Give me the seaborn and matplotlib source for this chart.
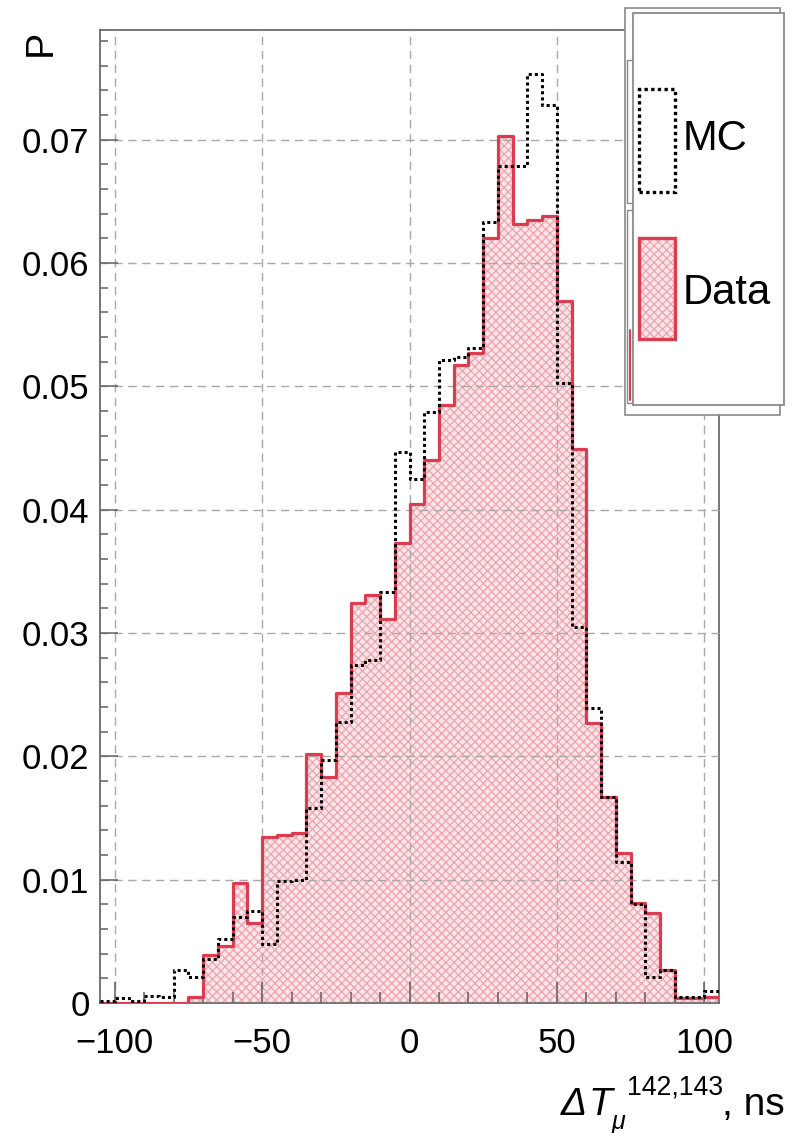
import numpy as np
import pandas as pd
import matplotlib
matplotlib.use("Agg")
import matplotlib.pyplot as plt
import seaborn as sns
from matplotlib import font_manager
from matplotlib.patches import Rectangle
from matplotlib.lines import Line2D
from matplotlib.ticker import FixedLocator, FixedFormatter, MultipleLocator

# ---- histogram content: probability per 5 ns bin, bins from -105 to 105 ns ----
bin_edges = [float(e) for e in np.arange(-105, 106, 5)]
bin_centers = [e + 2.5 for e in bin_edges[:-1]]

data_p = [0.0, 0.0, 0.0, 0.0, 0.0, 0.0, 0.0005, 0.0039, 0.0046, 0.0097,
          0.0065, 0.0135, 0.0136, 0.0138, 0.0202, 0.0183, 0.0251, 0.0324,
          0.0331, 0.0311, 0.0373, 0.0405, 0.0440, 0.0485, 0.0517, 0.0527,
          0.0620, 0.0703, 0.0632, 0.0635, 0.0638, 0.0569, 0.0449, 0.0227,
          0.0167, 0.0122, 0.0081, 0.0073, 0.0027, 0.0004, 0.0004, 0.0005]

mc_p = [0.0002, 0.0004, 0.0002, 0.0006, 0.0005, 0.0027, 0.0021, 0.0036,
        0.0052, 0.0070, 0.0075, 0.0048, 0.0099, 0.0100, 0.0158, 0.0197,
        0.0228, 0.0274, 0.0278, 0.0333, 0.0447, 0.0425, 0.0479, 0.0521,
        0.0524, 0.0531, 0.0633, 0.0679, 0.0679, 0.0753, 0.0728, 0.0503,
        0.0305, 0.0239, 0.0167, 0.0114, 0.0080, 0.0021, 0.0027, 0.0005,
        0.0005, 0.0010]

x_ticks = [-100, -50, 0, 50, 100]
x_tick_labels = ["\u2212100", "\u221250", "0", "50", "100"]
y_ticks = [0.0, 0.01, 0.02, 0.03, 0.04, 0.05, 0.06, 0.07]
y_tick_labels = ["0", "0.01", "0.02", "0.03", "0.04", "0.05", "0.06", "0.07"]
series_names = ["MC", "Data"]
y_title = "P"
x_title_parts = ["\u0394", "T", "\u03bc", "142,143", ", ns"]

df = pd.DataFrame({"dt": bin_centers, "data": data_p, "mc": mc_p})

# ---- style ----
sns.set_theme(style="white")


def has_font(name):
    try:
        font_manager.findfont(font_manager.FontProperties(family=name),
                              fallback_to_default=False)
        return True
    except ValueError:
        return False


narrow = has_font("Liberation Sans Narrow")
base = "Liberation Sans Narrow" if narrow else "Liberation Sans"
k = 1.0 if narrow else 0.86

plt.rcParams["font.family"] = [base, "Liberation Sans", "DejaVu Sans"]
plt.rcParams["text.color"] = "black"
plt.rcParams["axes.labelcolor"] = "black"
plt.rcParams["xtick.labelcolor"] = "black"
plt.rcParams["ytick.labelcolor"] = "black"
plt.rcParams["hatch.linewidth"] = 0.9

RED = "#dc3c50"
PINK_FACE = "#fde6e9"
PINK_HATCH = "#f0a3ad"
FRAME = "#606060"
GRID = "#a8a8a8"

W, H = 792, 1133
fig = plt.figure(figsize=(W / 100, H / 100), dpi=100)
ax = fig.add_axes([100 / W, 130 / H, 619 / W, 973 / H])

# Data: hatched pink fill
sns.histplot(data=df, x="dt", weights="data", bins=bin_edges, element="step",
             fill=True, facecolor=PINK_FACE, edgecolor=PINK_HATCH, hatch="xxxx",
             linewidth=0, alpha=1, ax=ax, zorder=1)
# Data outline
sns.histplot(data=df, x="dt", weights="data", bins=bin_edges, element="step",
             fill=False, color=RED, linewidth=2.3, ax=ax, zorder=3)
# MC outline (dotted)
sns.histplot(data=df, x="dt", weights="mc", bins=bin_edges, element="step",
             fill=False, color="black", linestyle=(0, (1, 1)), linewidth=2.2,
             ax=ax, zorder=4)

ax.set_xlim(-105, 105)
ax.set_ylim(0, 0.0789)

ax.xaxis.set_major_locator(FixedLocator(x_ticks))
ax.xaxis.set_major_formatter(FixedFormatter(x_tick_labels))
ax.xaxis.set_minor_locator(MultipleLocator(10))
ax.yaxis.set_major_locator(FixedLocator(y_ticks))
ax.yaxis.set_major_formatter(FixedFormatter(y_tick_labels))
ax.yaxis.set_minor_locator(MultipleLocator(0.002))

fs_tick = 29 * k
ax.tick_params(axis="x", which="major", direction="in", length=15, width=1.1,
               color=FRAME, labelsize=fs_tick, pad=17, bottom=True, top=False)
ax.tick_params(axis="x", which="minor", direction="in", length=8, width=1.1,
               color=FRAME, bottom=True, top=False)
ax.tick_params(axis="y", which="major", direction="in", length=13, width=1.1,
               color=FRAME, labelsize=fs_tick, pad=7.5, left=True, right=False)
ax.tick_params(axis="y", which="minor", direction="in", length=6, width=1.1,
               color=FRAME, left=True, right=False)

ax.grid(True, which="major", color=GRID, linestyle=(0, (6, 4)), linewidth=1.0)
ax.set_axisbelow(False)
for s in ax.spines.values():
    s.set_color(FRAME)
    s.set_linewidth(1.2)

ax.set_xlabel("")
ax.set_ylabel(y_title, fontsize=33 * k, ha="right", va="bottom")
ax.yaxis.set_label_coords(-0.066, 1.0)


# ---- helpers in figure pixels (origin top-left) ----
def fx(x):
    return x / W


def fy(y):
    return 1 - y / H


def box(x0, y0, x1, y1, **kw):
    r = Rectangle((fx(x0), fy(y1)), fx(x1) - fx(x0), fy(y0) - fy(y1),
                  transform=fig.transFigure, **kw)
    fig.add_artist(r)
    return r


LAT = ["Liberation Sans", "DejaVu Sans"]
# x-axis title: italic Delta T with mu subscript and run-number superscript
fig.text(fx(561), fy(1115), x_title_parts[0], fontsize=28, style="italic",
         family=LAT, va="baseline", ha="left")
fig.text(fx(588), fy(1115), x_title_parts[1], fontsize=28, style="italic",
         family=LAT, va="baseline", ha="left")
fig.text(fx(612), fy(1129), x_title_parts[2], fontsize=18, style="italic",
         family=LAT, va="baseline", ha="left")
fig.text(fx(627), fy(1095), x_title_parts[3], fontsize=20 * k / 0.86 * 0.96,
         va="baseline", ha="left")
fig.text(fx(722), fy(1115), x_title_parts[4], fontsize=28,
         family=LAT, va="baseline", ha="left")

# ---- legend (two stacked boxes, front one carrying both entries) ----
box(625, 8, 780, 415, facecolor="white", edgecolor="#8a8a8a", linewidth=1.2,
    zorder=5)
box(627, 60, 645, 203, facecolor="white", edgecolor="#8a8a8a", linewidth=1.0,
    zorder=5)
box(627, 210, 645, 403, facecolor="white", edgecolor="#8a8a8a", linewidth=1.0,
    zorder=5)
fig.add_artist(Line2D([fx(630), fx(630)], [fy(330), fy(400)], color=RED,
                      linewidth=1.5, transform=fig.transFigure, zorder=5))
box(633, 13, 784, 405, facecolor="white", edgecolor="#8a8a8a", linewidth=1.3,
    zorder=6)

# MC swatch
box(639, 89, 675, 192, facecolor="white", edgecolor="black", linewidth=2.4,
    linestyle=(0, (1, 1)), zorder=7)
# Data swatch
box(639, 238, 675, 339, facecolor=PINK_FACE, edgecolor=PINK_HATCH,
    hatch="xxxx", linewidth=0, zorder=7)
box(639, 238, 675, 339, fill=False, edgecolor=RED, linewidth=2.4, zorder=8)

fig.text(fx(683), fy(134), series_names[0], fontsize=35 * k, ha="left",
         va="center_baseline", zorder=9)
fig.text(fx(683), fy(288), series_names[1], fontsize=35 * k, ha="left",
         va="center_baseline", zorder=9)

fig.savefig("out.png", dpi=100)
